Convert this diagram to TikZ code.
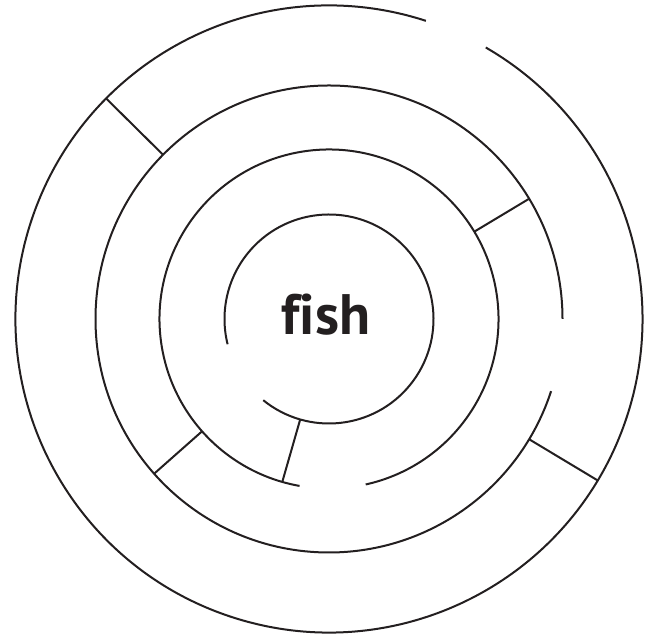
\documentclass[tikz,border=0pt]{standalone}
\usepackage{fontspec}
\setmainfont{PT Sans}[Ligatures=NoCommon]
\begin{document}
\begin{tikzpicture}[x=1pt,y=1pt,
  wall/.style={line width=2pt, draw={rgb,255:red,35;green,31;blue,32}}]
\useasboundingbox (0,0) rectangle (653,636);
\coordinate (c) at (329,317);
% rings
\draw[wall] ([shift={(72:313.5)}]c) arc[start angle=72, end angle=420, radius=313.5];
\draw[wall] ([shift={(0:233.5)}]c) arc[start angle=0, end angle=342, radius=233.5];
\draw[wall] ([shift={(-77.5:169.5)}]c) arc[start angle=-77.5, end angle=260, radius=169.5];
\draw[wall] ([shift={(231:104.5)}]c) arc[start angle=231, end angle=554, radius=104.5];
% radial walls
\draw[wall] ([shift={(135.3:233.5)}]c) -- ([shift={(135.3:313.5)}]c);
\draw[wall] ([shift={(-31:233.5)}]c) -- ([shift={(-31:313.5)}]c);
\draw[wall] ([shift={(31:169.5)}]c) -- ([shift={(31:233.5)}]c);
\draw[wall] ([shift={(221.5:169.5)}]c) -- ([shift={(221.5:233.5)}]c);
\draw[wall] ([shift={(254:104.5)}]c) -- ([shift={(254:169.5)}]c);
% label
\node[text={rgb,255:red,35;green,31;blue,32}, font=\fontsize{57}{57}\selectfont\bfseries, anchor=base] (fish) at (326,301) {f\kern0pt ish};
\end{tikzpicture}
\end{document}
